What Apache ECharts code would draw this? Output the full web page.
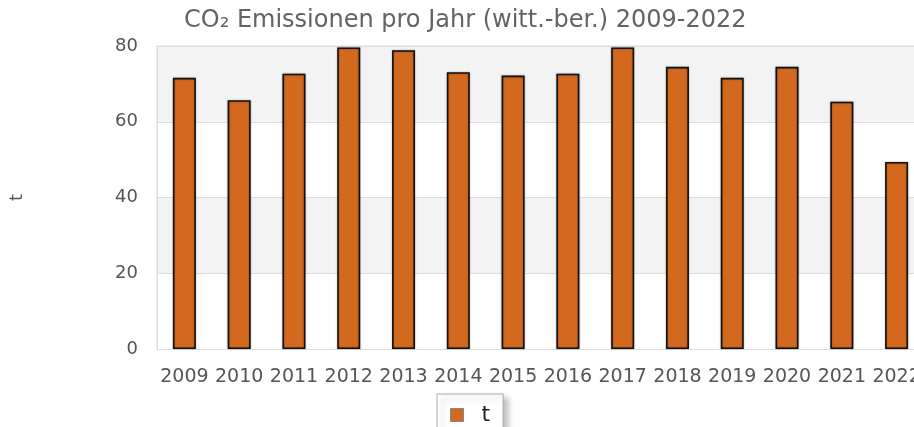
<!DOCTYPE html>
<html>
<head>
<meta charset="UTF-8">
<title>CO2 Emissionen</title>
<script src="https://cdn.jsdelivr.net/npm/echarts@6/dist/echarts.min.js"></script>
<style>
  html, body { margin: 0; padding: 0; background: #fff; }
  #chart { width: 914px; height: 427px; }
</style>
</head>
<body>
<div id="chart"></div>
<script>
// Jahre und Werte (in t)
var years = ['2009', '2010', '2011', '2012', '2013', '2014', '2015', '2016', '2017', '2018', '2019', '2020', '2021', '2022'];
var tonnes = [71.6, 65.7, 72.7, 79.6, 78.9, 73.1, 72.2, 72.7, 79.6, 74.5, 71.6, 74.5, 65.3, 49.4];
var yTicks = [0, 20, 40, 60, 80];

var textColor = '#555';
var font = 'DejaVu Sans';

var myChart = echarts.init(document.getElementById('chart'));

var option = {
    animation: false,
    title: {
        text: 'CO₂ Emissionen pro Jahr (witt.-ber.) 2009-2022',
        left: 179,
        top: 4,
        textStyle: { color: '#636363', fontFamily: font, fontSize: 24, fontWeight: 'normal' }
    },
    legend: {
        data: ['t'],
        left: 437,
        top: 394,
        padding: [10, 13, 14, 13],
        borderColor: '#aaa',
        borderWidth: 1,
        backgroundColor: '#fff',
        shadowColor: 'rgba(0,0,0,0.25)',
        shadowBlur: 6,
        shadowOffsetX: 5,
        shadowOffsetY: 4,
        icon: 'rect',
        itemWidth: 13,
        itemHeight: 13,
        itemStyle: { borderColor: '#888', borderWidth: 1 },
        formatter: '{a|{name}}',
        textStyle: {
            color: '#222', fontFamily: font, fontSize: 22,
            rich: { a: { color: '#222', fontFamily: font, fontSize: 22, padding: [0, 6, 0, 13] } }
        }
    },
    grid: {
        left: 157,
        top: 46,
        bottom: 78,
        width: 767,
        outerBoundsMode: 'none',
        containLabel: false,
        show: true,
        borderColor: '#ddd',
        borderWidth: 1
    },
    xAxis: {
        type: 'category',
        data: years,
        axisTick: { show: false },
        axisLine: { lineStyle: { color: '#ddd', width: 1 } },
        axisLabel: { color: textColor, fontFamily: font, fontSize: 19, margin: 19, interval: 0, hideOverlap: false }
    },
    yAxis: {
        type: 'value',
        name: 't',
        nameLocation: 'middle',
        nameGap: 131,
        nameTextStyle: { color: textColor, fontFamily: font, fontSize: 18 },
        min: yTicks[0],
        max: yTicks[yTicks.length - 1],
        interval: 20,
        axisLine: { show: true, lineStyle: { color: '#ddd' } },
        axisTick: { show: false },
        axisLabel: { color: textColor, fontFamily: font, fontSize: 18, margin: 19 },
        splitLine: { lineStyle: { color: '#ddd' } },
        splitArea: { show: true, areaStyle: { color: ['#ffffff', '#f3f3f3'] } }
    },
    series: [{
        name: 't',
        type: 'bar',
        data: tonnes,
        barWidth: 23,
        itemStyle: {
            color: '#d2691e',
            borderColor: '#111',
            borderWidth: 1.6,
            shadowColor: 'rgba(0,0,0,0.3)',
            shadowBlur: 2
        }
    }]
};

myChart.setOption(option);
</script>
</body>
</html>
